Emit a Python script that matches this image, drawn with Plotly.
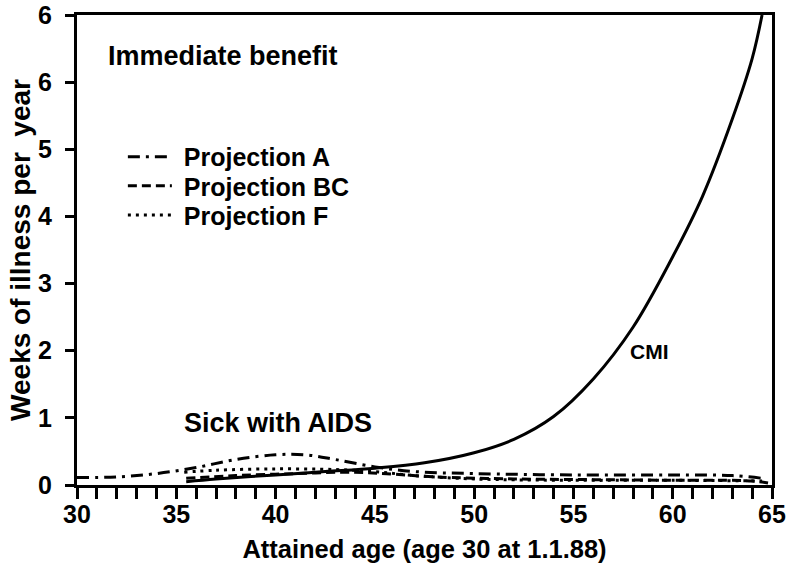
import plotly.graph_objects as go

# CMI standard sickness (weeks of illness per year by attained age)
cmi_age = [35.5, 37, 40, 42.5, 45, 47.5, 50, 52, 54, 56, 58, 60, 61.5, 63, 64, 64.5]
cmi_val = [0.05, 0.09, 0.15, 0.20, 0.25, 0.33, 0.48, 0.68, 1.02, 1.58, 2.35, 3.40, 4.30, 5.45, 6.35, 7.0]

# Sick with AIDS, by projection
a_age = [30, 32, 34, 36, 38, 40, 41.5, 43, 45, 47, 50, 55, 60, 63, 64.5]
a_val = [0.11, 0.12, 0.17, 0.26, 0.38, 0.45, 0.45, 0.38, 0.27, 0.20, 0.17, 0.15, 0.15, 0.14, 0.10]

bc_age = [35.5, 38, 41, 44, 46, 48, 52, 56, 60, 64, 64.8]
bc_val = [0.10, 0.14, 0.17, 0.19, 0.16, 0.12, 0.09, 0.08, 0.07, 0.06, 0.03]

f_age = [35.4, 37, 40, 43, 45, 47, 50, 55, 60, 64.5]
f_val = [0.19, 0.22, 0.24, 0.23, 0.20, 0.14, 0.09, 0.07, 0.07, 0.06]

x_ticks = list(range(30, 66))
x_labels = [str(v) if v % 5 == 0 else "" for v in x_ticks]
y_ticks = [0, 1, 2, 3, 4, 5, 6, 7]
y_labels = ["0", "1", "2", "3", "4", "5", "6", "6"]

FONT = "Liberation Sans, Arial, Helvetica, sans-serif"
LW = 3
GAP = "\u00a0"  # a little extra room between legend sample and label

fig = go.Figure()
fig.add_trace(go.Scatter(x=cmi_age, y=cmi_val, mode="lines", showlegend=False,
                         line=dict(color="black", width=LW, shape="spline")))
fig.add_trace(go.Scatter(x=a_age, y=a_val, mode="lines", name=GAP + "Projection A", legend="legend",
                         line=dict(color="black", width=LW, dash="12px,6px,3px,6px", shape="spline")))
fig.add_trace(go.Scatter(x=bc_age, y=bc_val, mode="lines", name=GAP + "Projection BC", legend="legend2",
                         line=dict(color="black", width=LW, dash="9px,5px", shape="spline")))
fig.add_trace(go.Scatter(x=f_age, y=f_val, mode="lines", name=GAP + "Projection F", legend="legend3",
                         line=dict(color="black", width=LW, dash="3px,5px", shape="spline")))

# one legend box per projection so the rows sit close together
leg_common = dict(x=0.066, xanchor="left", yanchor="middle", bgcolor="rgba(0,0,0,0)",
                  font=dict(size=25, weight="bold"), itemwidth=44)

fig.update_layout(
    width=788, height=574,
    margin=dict(l=77, r=16, t=15, b=89),
    paper_bgcolor="white", plot_bgcolor="white",
    font=dict(family=FONT, color="black", size=20, weight="bold"),
    legend=dict(y=0.698, **leg_common),
    legend2=dict(y=0.636, **leg_common),
    legend3=dict(y=0.574, **leg_common),
    xaxis=dict(range=[30, 65], tickmode="array", tickvals=x_ticks, ticktext=x_labels,
               ticks="outside", ticklen=11, tickwidth=3, tickcolor="black",
               showline=True, linewidth=3, linecolor="black", mirror=True,
               showgrid=False, zeroline=False, ticklabelstandoff=-6, automargin=False,
               tickfont=dict(size=25, weight="bold"),
               title=dict(text="Attained age (age 30 at 1.1.88)",
                          font=dict(size=25.5, weight="bold"), standoff=14)),
    yaxis=dict(range=[0, 7], tickmode="array", tickvals=y_ticks, ticktext=y_labels,
               ticks="outside", ticklen=9, tickwidth=3, tickcolor="black",
               showline=True, linewidth=3, linecolor="black", mirror=True,
               showgrid=False, zeroline=False, ticklabelstandoff=8, automargin=False,
               tickfont=dict(size=25, weight="bold"),
               title=dict(text="Weeks of illness per  year",
                          font=dict(size=28, weight="bold"), standoff=0)),
    annotations=[
        dict(x=0.042, y=0.912, xref="paper", yref="paper", xanchor="left", yanchor="middle",
             text="Immediate benefit", showarrow=False, font=dict(size=27, weight="bold")),
        dict(x=0.151, y=0.132, xref="paper", yref="paper", xanchor="left", yanchor="middle",
             text="Sick with AIDS", showarrow=False, font=dict(size=27, weight="bold")),
        dict(x=0.793, y=0.283, xref="paper", yref="paper", xanchor="left", yanchor="middle",
             text="CMI", showarrow=False, font=dict(size=21, weight="bold")),
    ],
)

fig.write_html("out.html")
